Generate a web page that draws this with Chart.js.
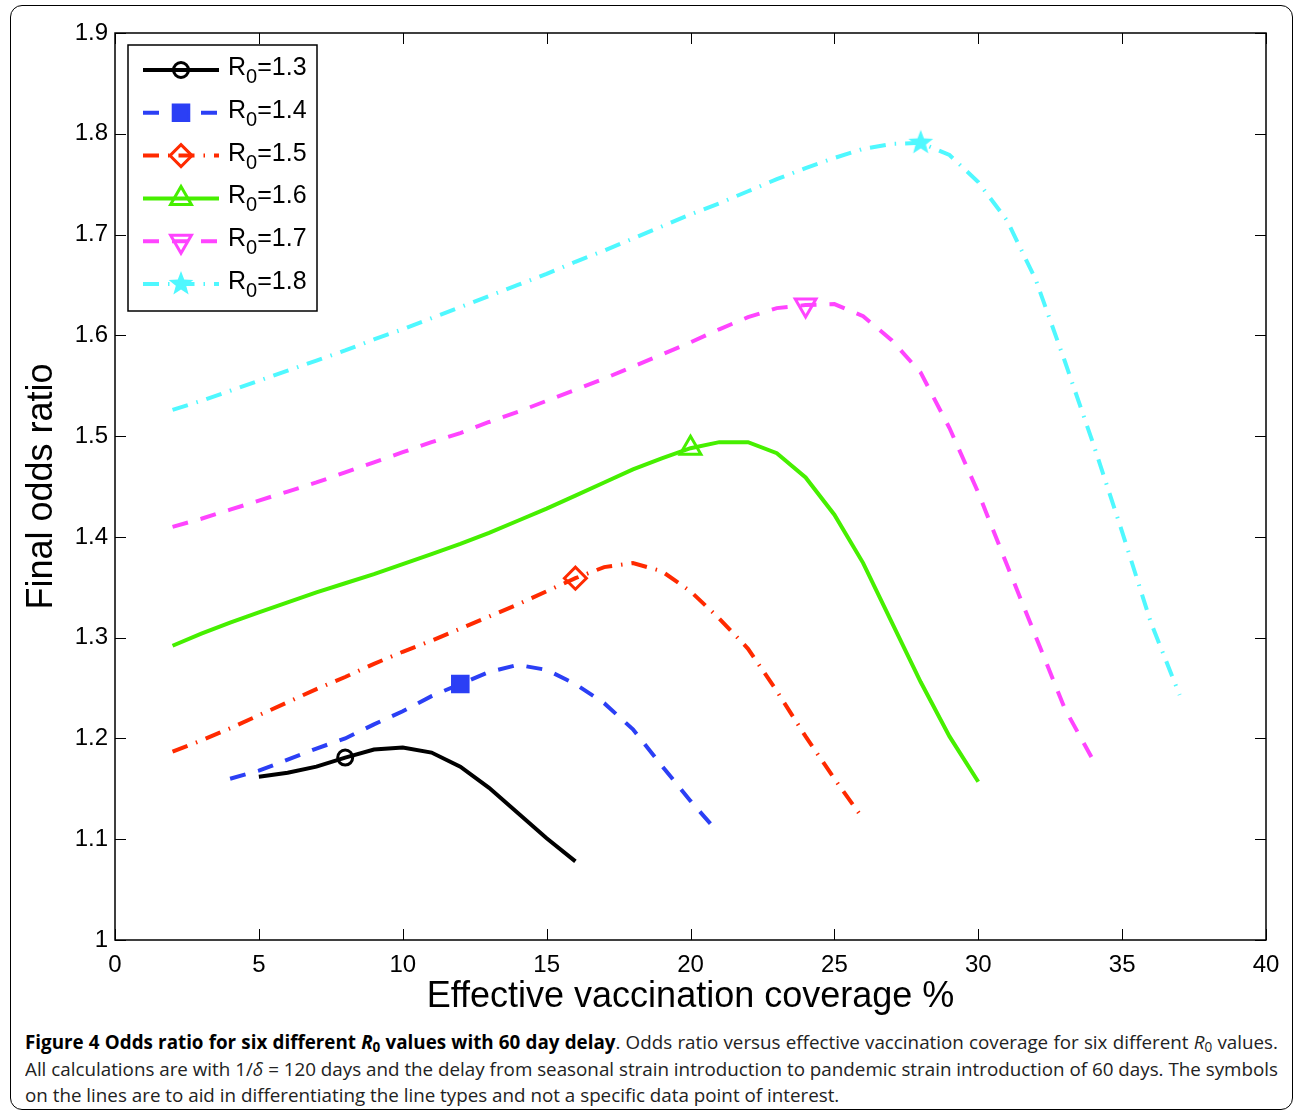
<!DOCTYPE html>
<html>
<head>
<meta charset="utf-8">
<script src="https://cdn.jsdelivr.net/npm/chart.js@4.4.0/dist/chart.umd.min.js"></script>
<style>
  body { margin: 0; background: #fff; width: 1295px; height: 1113px; position: relative; overflow: hidden; }
  #frame { position: absolute; left: 10px; top: 5px; width: 1283px; height: 1105px; border: 1.5px solid #000; border-radius: 12px; box-sizing: border-box; }
  #wrap { position: absolute; left: 0; top: 0; width: 1295px; height: 1025px; }
  #caption { position: absolute; left: 25px; top: 1029px; width: 1253px; transform-origin: 0 0;
             font-family: "Open Sans", sans-serif; font-size: 19px; line-height: 26.5px; color: #222; }
  #caption .ln { text-align: justify; text-align-last: justify; white-space: nowrap; }
  #caption .last { text-align: left; text-align-last: left; }
  #caption b { color: #000; }
  #caption sub { font-size: 0.72em; vertical-align: -0.25em; line-height: 0; }
</style>
</head>
<body>
<div id="frame"></div>
<div id="wrap"><canvas id="myChart" width="1295" height="1025"></canvas></div>
<div id="caption">
  <div class="ln"><span><b>Figure 4 Odds ratio for six different <i>R</i><sub>0</sub> values with 60 day delay</b>. Odds ratio versus effective vaccination coverage for six different <i>R</i><sub>0</sub> values.</span></div>
  <div class="ln"><span>All calculations are with 1/<i>δ</i> = 120 days and the delay from seasonal strain introduction to pandemic strain introduction of 60 days. The symbols</span></div>
  <div class="ln last"><span>on the lines are to aid in differentiating the line types and not a specific data point of interest.</span></div>
</div>
<script>
// R0 labels
var r0Labels = ['1.3', '1.4', '1.5', '1.6', '1.7', '1.8'];

// effective vaccination coverage (%) for each curve
var cov13 = [5, 6, 7, 8, 9, 10, 11, 12, 13, 14, 15, 16];
var cov14 = [4, 5, 6, 7, 8, 9, 10, 11, 12, 13, 14, 15, 16, 17, 18, 19, 20, 20.8];
var cov15 = [2, 3, 4, 5, 6, 7, 8, 9, 10, 11, 12, 13, 14, 15, 16, 17, 18, 19, 20, 21, 22, 23, 24, 25, 25.9];
var cov16 = [2, 3, 4, 5, 6, 7, 8, 9, 10, 11, 12, 13, 14, 15, 16, 17, 18, 19, 20, 21, 22, 23, 24, 25, 26, 27, 28, 29, 30];
var cov17 = [2, 3, 4, 5, 6, 7, 8, 9, 10, 11, 12, 13, 14, 15, 16, 17, 18, 19, 20, 21, 22, 23, 24, 25, 26, 27, 28, 29, 30, 31, 32, 33, 34];
var cov18 = [2, 3, 4, 5, 6, 7, 8, 9, 10, 11, 12, 13, 14, 15, 16, 17, 18, 19, 20, 21, 22, 23, 24, 25, 26, 27, 28, 29, 30, 31, 32, 33, 34, 35, 36, 37];

// final odds ratio
var odds13 = [1.162, 1.166, 1.172, 1.181, 1.189, 1.191, 1.186, 1.172, 1.151, 1.126, 1.101, 1.078];
var odds14 = [1.160, 1.168, 1.179, 1.190, 1.200, 1.214, 1.227, 1.242, 1.254, 1.266, 1.273, 1.268, 1.254, 1.235, 1.209, 1.173, 1.138, 1.112];
var odds15 = [1.187, 1.198, 1.210, 1.223, 1.236, 1.249, 1.261, 1.274, 1.286, 1.297, 1.309, 1.321, 1.333, 1.346, 1.359,
              1.370, 1.374, 1.366, 1.346, 1.319, 1.289, 1.247, 1.202, 1.160, 1.124];
var odds16 = [1.292, 1.304, 1.315, 1.325, 1.335, 1.345, 1.354, 1.363, 1.373, 1.383, 1.393, 1.404, 1.416, 1.428, 1.441,
              1.454, 1.467, 1.478, 1.488, 1.494, 1.494, 1.483, 1.459, 1.422, 1.374, 1.315, 1.256, 1.202, 1.157];
var odds17 = [1.410, 1.418, 1.427, 1.436, 1.445, 1.454, 1.464, 1.474, 1.484, 1.494, 1.503, 1.514, 1.524, 1.535, 1.546,
              1.557, 1.569, 1.581, 1.593, 1.606, 1.618, 1.627, 1.630, 1.631, 1.619, 1.595, 1.563, 1.508, 1.444,
              1.372, 1.301, 1.230, 1.178];
var odds18 = [1.526, 1.535, 1.545, 1.555, 1.565, 1.575, 1.585, 1.596, 1.606, 1.617, 1.628, 1.639, 1.650, 1.661, 1.673,
              1.684, 1.696, 1.708, 1.720, 1.731, 1.743, 1.755, 1.766, 1.776, 1.785, 1.790, 1.791, 1.779, 1.752,
              1.714, 1.655, 1.575, 1.492, 1.405, 1.315, 1.243];

// where the single symbol sits on each line
var markerX = [8, 12, 16, 20, 24, 28];

var xTicks = [0, 5, 10, 15, 20, 25, 30, 35, 40];
var yTicks = [1, 1.1, 1.2, 1.3, 1.4, 1.5, 1.6, 1.7, 1.8, 1.9];

// squeeze caption lines into the frame if the font runs wide
(function () {
    var cap = document.getElementById('caption');
    var w = 0;
    cap.querySelectorAll('.ln span').forEach(function (s) { w = Math.max(w, s.getBoundingClientRect().width); });
    if (w > 1253) {
        cap.style.width = w + 'px';
        cap.style.transform = 'scaleX(' + (1253 / w) + ')';
    }
})();

function makeStar(color, r) {
    var c = document.createElement('canvas');
    c.width = c.height = Math.ceil(r * 2 + 2);
    var g = c.getContext('2d');
    var cx = c.width / 2, cy = c.height / 2;
    g.beginPath();
    for (var i = 0; i < 10; i++) {
        var rad = i % 2 === 0 ? r : r * 0.42;
        var a = -Math.PI / 2 + i * Math.PI / 5;
        g.lineTo(cx + rad * Math.cos(a), cy + rad * Math.sin(a));
    }
    g.closePath();
    g.fillStyle = color;
    g.fill();
    return c;
}

function pts(xs, ys) {
    return xs.map(function (x, i) { return { x: x, y: ys[i] }; });
}

var colors = ['#000000', '#2b3ff5', '#ff2a00', '#46ef00', '#ff44ff', '#4ff8ff'];
var dashes = [[], [16, 13], [16, 9, 1.5, 9], [], [16, 13], [16, 9, 1.5, 9]];
var styles = ['circle', 'rect', 'rectRot', 'triangle', 'triangle', makeStar(colors[5], 13)];
var radii = [7.5, 11, 11, 12, 12, 13];
var fills = ['rgba(0,0,0,0)', colors[1], 'rgba(0,0,0,0)', 'rgba(0,0,0,0)', 'rgba(0,0,0,0)', colors[5]];
var rotations = [0, 0, 0, 0, 180, 0];
var seriesX = [cov13, cov14, cov15, cov16, cov17, cov18];
var seriesY = [odds13, odds14, odds15, odds16, odds17, odds18];

var datasets = seriesX.map(function (xs, i) {
    return {
        label: 'R0=' + r0Labels[i],
        data: pts(xs, seriesY[i]),
        borderColor: colors[i],
        backgroundColor: colors[i],
        borderWidth: 4,
        borderDash: dashes[i],
        borderCapStyle: 'butt',
        tension: 0,
        pointStyle: styles[i],
        pointRotation: rotations[i],
        pointBackgroundColor: fills[i],
        pointBorderColor: colors[i],
        pointBorderWidth: 3,
        pointRadius: function (ctx) { return ctx.raw && ctx.raw.x === markerX[i] ? radii[i] : 0; },
        pointHoverRadius: function (ctx) { return ctx.raw && ctx.raw.x === markerX[i] ? radii[i] : 0; }
    };
});

var frameBox = {
    id: 'frameBox',
    afterDatasetsDraw: function (chart) {
        var ctx = chart.ctx, a = chart.chartArea;
        var xs = chart.scales.x, ys = chart.scales.y;
        ctx.save();
        ctx.strokeStyle = '#000';
        ctx.lineWidth = 1.5;
        ctx.setLineDash([]);
        ctx.strokeRect(a.left, a.top, a.right - a.left, a.bottom - a.top);
        ctx.lineWidth = 1;
        ctx.beginPath();
        xTicks.forEach(function (v) {
            var p = Math.round(xs.getPixelForValue(v)) + 0.5;
            ctx.moveTo(p, a.bottom); ctx.lineTo(p, a.bottom - 11);
            ctx.moveTo(p, a.top); ctx.lineTo(p, a.top + 11);
        });
        yTicks.forEach(function (v) {
            var p = Math.round(ys.getPixelForValue(v)) + 0.5;
            ctx.moveTo(a.left, p); ctx.lineTo(a.left + 11, p);
            ctx.moveTo(a.right, p); ctx.lineTo(a.right - 11, p);
        });
        ctx.stroke();

        // legend
        var bx = a.left + 13, by = a.top + 12, bw = 189, bh = 266;
        ctx.fillStyle = '#fff';
        ctx.fillRect(bx, by, bw, bh);
        ctx.lineWidth = 1.5;
        ctx.strokeRect(bx, by, bw, bh);
        chart.data.datasets.forEach(function (ds, i) {
            var rowY = by + 25 + i * 42.8;
            ctx.save();
            ctx.strokeStyle = ds.borderColor;
            ctx.lineWidth = 4;
            ctx.lineCap = 'butt';
            ctx.setLineDash(ds.borderDash);
            ctx.beginPath();
            ctx.moveTo(bx + 15, rowY);
            ctx.lineTo(bx + 91, rowY);
            ctx.stroke();
            ctx.setLineDash([]);
            ctx.fillStyle = ds.pointBackgroundColor;
            ctx.strokeStyle = ds.pointBorderColor;
            ctx.lineWidth = ds.pointBorderWidth;
            Chart.helpers.drawPoint(ctx, {
                pointStyle: ds.pointStyle, rotation: ds.pointRotation,
                radius: radii[i], borderWidth: ds.pointBorderWidth
            }, bx + 53, rowY);
            ctx.restore();
            ctx.fillStyle = '#000';
            ctx.textBaseline = 'alphabetic';
            ctx.textAlign = 'left';
            var tx = bx + 100;
            ctx.font = '25px "Liberation Sans", Arial, sans-serif';
            ctx.fillText('R', tx, rowY + 5);
            tx += ctx.measureText('R').width;
            ctx.font = '20px "Liberation Sans", Arial, sans-serif';
            ctx.fillText('0', tx, rowY + 13);
            tx += ctx.measureText('0').width;
            ctx.font = '25px "Liberation Sans", Arial, sans-serif';
            ctx.fillText('=' + r0Labels[i], tx, rowY + 5);
        });
        ctx.restore();
    }
};

var tickFont = { family: '"Liberation Sans", Arial, sans-serif', size: 24 };
var titleFont = { family: '"Liberation Sans", Arial, sans-serif', size: 36 };

var myChart = new Chart(document.getElementById('myChart').getContext('2d'), {
    type: 'line',
    data: { datasets: datasets },
    options: {
        responsive: false,
        animation: false,
        layout: { padding: { left: 0, top: 33, right: 29, bottom: 0 } },
        plugins: { legend: { display: false }, tooltip: { enabled: false } },
        scales: {
            x: {
                type: 'linear', min: 0, max: 40,
                afterFit: function (s) { s.height = 85; },
                afterBuildTicks: function (s) { s.ticks = xTicks.map(function (v) { return { value: v }; }); },
                grid: { display: false, drawTicks: false },
                border: { display: false },
                ticks: { font: tickFont, color: '#000', padding: 11, maxRotation: 0,
                         callback: function (v) { return String(v); } },
                title: { display: true, text: 'Effective vaccination coverage %', font: titleFont, color: '#000', padding: { top: 0, bottom: 6 } }
            },
            y: {
                type: 'linear', min: 1, max: 1.9,
                afterFit: function (s) { s.width = 115; },
                afterBuildTicks: function (s) { s.ticks = yTicks.map(function (v) { return { value: v }; }); },
                grid: { display: false, drawTicks: false },
                border: { display: false },
                ticks: { font: tickFont, color: '#000', padding: 7,
                         callback: function (v) { return String(Math.round(v * 10) / 10); } },
                title: { display: true, text: 'Final odds ratio', font: titleFont, color: '#000', padding: { top: 20, bottom: 0 } }
            }
        }
    },
    plugins: [frameBox]
});
</script>
</body>
</html>
